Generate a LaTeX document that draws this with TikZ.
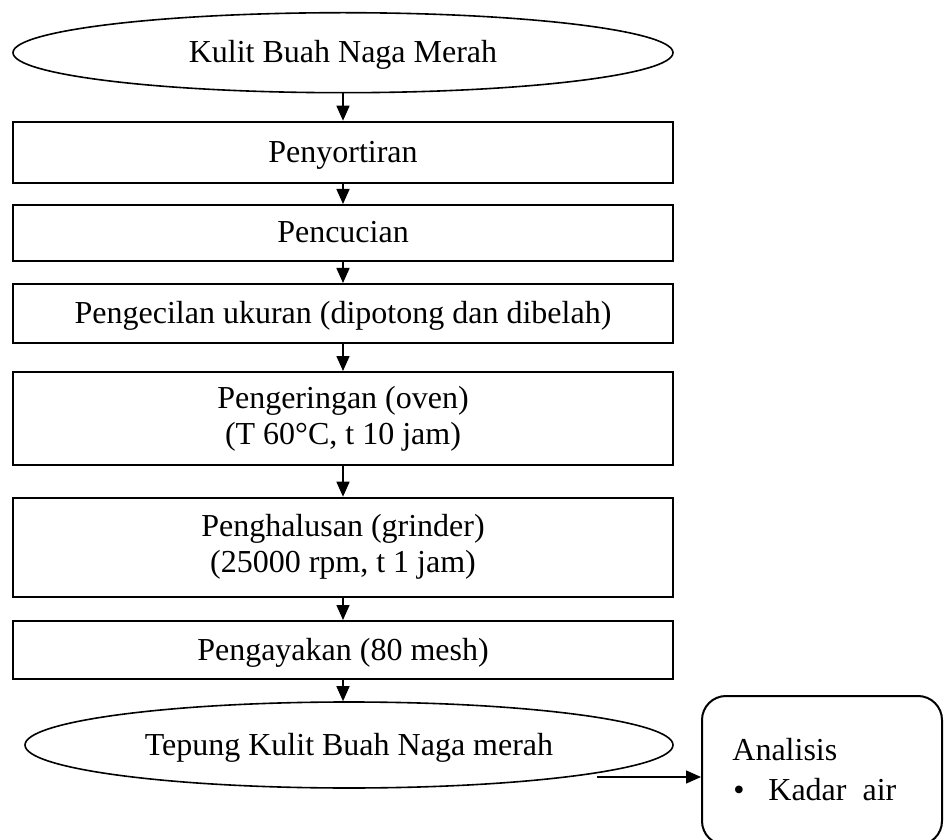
\documentclass[tikz,border=0pt]{standalone}
\usepackage{fontspec}
\setmainfont{Liberation Serif}
\usepackage{tikz}
\usetikzlibrary{shapes.geometric}
\usetikzlibrary{arrows.meta}
\usepackage{xcolor}

\begin{document}
\begin{tikzpicture}[x=0.5pt,y=-0.5pt,
font=\fontsize{16}{18}\selectfont,
proses/.style={draw,rectangle,line width=1pt,minimum width=330pt,inner sep=2pt,align=center},
baris/.style={text height=14pt,text depth=4pt},
bahan/.style={draw,ellipse,line width=0.8pt,inner sep=0pt,baris},
panah/.style={-{Triangle[length=7.5pt,width=6.5pt]},line width=0.8pt}]
%\draw[help lines] (0,0) grid (944,840);
\useasboundingbox (0,0) rectangle (944,840);

\node (kulit) [bahan,minimum width=330pt,minimum height=40pt] at (343,52.7) {Kulit Buah Naga Merah};
\node (sortir) [proses,baris,minimum height=30.5pt] at (343,152.2) {Penyortiran};
\node (cuci) [proses,baris,minimum height=27.9pt] at (343,232.9) {Pencucian};
\node (kecil) [proses,baris,minimum height=29.5pt] at (343,313.5) {Pengecilan ukuran (dipotong dan dibelah)};
\node (kering) [proses,minimum height=46.5pt] at (343,418.5) {Pengeringan (oven)\\(T 60°C, t 10 jam)};
\node (halus) [proses,minimum height=49.5pt] at (343,547.2) {Penghalusan (grinder)\\(25000 rpm, t 1 jam)};
\node (ayak) [proses,baris,minimum height=29pt] at (343,650) {Pengayakan (80 mesh)};
\node (tepung) [bahan,minimum width=324pt,minimum height=43pt] at (349,745) {Tepung Kulit Buah Naga merah};

\node (analisis) [draw,rounded corners=12pt,line width=1pt,minimum width=120pt,minimum height=74.5pt] at (822,770.5) {};
\node (judul) [anchor=base west,inner sep=0pt] at (732,760) {Analisis};
\node (titik) [anchor=base west,inner sep=0pt] at (733,800) {\textbullet};
\node (kadar) [anchor=base west,inner sep=0pt] at (768,800) {Kadar\ \ air};

\draw[panah] (kulit) -- (sortir);
\draw[panah] (sortir) -- (cuci);
\draw[panah] (cuci) -- (kecil);
\draw[panah] (kecil) -- (kering);
\draw[panah] (kering) -- (halus);
\draw[panah] (halus) -- (ayak);
\draw[panah] (ayak.south) -- (ayak.south |- tepung.north);

\coordinate (ujung) at (597,777);
\draw[panah] (ujung) -- (ujung -| analisis.west);
\end{tikzpicture}
\end{document}
